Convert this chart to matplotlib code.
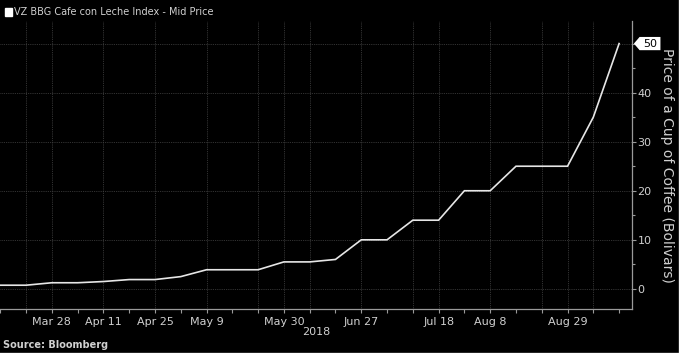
import matplotlib
matplotlib.use("Agg")
import matplotlib.pyplot as plt
from matplotlib.ticker import MultipleLocator
from matplotlib.patches import Polygon
from matplotlib.lines import Line2D
import matplotlib.transforms as mtrans

# weekly observations (index = week position on the axis)
weeks = list(range(25))
price = [0.75, 0.75, 1.25, 1.25, 1.5, 1.9, 1.9, 2.5, 3.9, 3.9, 3.9, 5.5, 5.5,
         6.0, 10, 10, 14, 14, 20, 20, 25, 25, 25, 35, 50]

label_pos = [2, 4, 6, 8, 11, 14, 17, 19, 22]
label_txt = ["Mar 28", "Apr 11", "Apr 25", "May 9", "May 30", "Jun 27",
             "Jul 18", "Aug 8", "Aug 29"]
grid_pos = [1, 2, 4, 6, 8, 10, 11, 12, 14, 16, 17, 19, 21, 22, 23]

bg = "black"
fg = "#d0d0d0"
spine_c = "#9a9a9a"
grid_c = "#444444"

fig = plt.figure(figsize=(6.79, 3.53), dpi=100, facecolor=bg)
ax = fig.add_axes([0.0, 44 / 353, 632 / 679, (309 - 21) / 353])
ax.set_facecolor(bg)

ax.plot(weeks, price, color="#e6e6e6", lw=1.2, solid_joinstyle="miter")

ax.set_xlim(-0.01, 24.5)
ax.set_ylim(-4.1, 54.6)

# grid
for g in grid_pos:
    ax.axvline(g, color=grid_c, lw=0.6, ls=(0, (1, 1.2)), zorder=0)
for yv in range(0, 60, 10):
    ax.axhline(yv, color=grid_c, lw=0.6, ls=(0, (1, 1.2)), zorder=0)

# spines
for s in ["left", "top"]:
    ax.spines[s].set_visible(False)
for s in ["bottom", "right"]:
    ax.spines[s].set_color(spine_c)
    ax.spines[s].set_linewidth(0.9)

ax.yaxis.tick_right()
ax.yaxis.set_label_position("right")
ax.set_yticks(range(0, 50, 10))
ax.yaxis.set_minor_locator(MultipleLocator(5))
ax.set_xticks(label_pos)
ax.set_xticklabels(label_txt)
ax.xaxis.set_minor_locator(MultipleLocator(1))
ax.tick_params(axis="both", which="both", colors=spine_c, labelcolor=fg,
               labelsize=8)
ax.tick_params(axis="x", which="both", length=3, width=0.8, pad=3)
ax.tick_params(axis="y", which="major", length=3, width=0.8, pad=1)
ax.tick_params(axis="y", which="minor", length=2, width=0.8)

ax.set_ylabel("Price of a Cup of Coffee (Bolivars)", color=fg, fontsize=10,
              rotation=270, labelpad=16)

# last value marker: small white tag with a notch pointing at the axis
last = price[-1]
tr = mtrans.blended_transform_factory(ax.transAxes, ax.transData)
x0 = 1.003
x1 = 1.012
x2 = 1.045
h = 1.35
tag = Polygon([(x0, last), (x1, last + h), (x2, last + h), (x2, last - h),
               (x1, last - h)], closed=True, transform=tr, facecolor="white",
              edgecolor="none", clip_on=False, zorder=5)
ax.add_patch(tag)
ax.text((x1 + x2) / 2, last, f"{last:.0f}", transform=tr, color="black",
        fontsize=8, ha="center", va="center", clip_on=False, zorder=6)

fig.text(316 / 679, 1 - 332 / 353, "2018", color=fg, fontsize=8,
         ha="center", va="center")

# title with legend square
fig.patches.append(plt.Rectangle((5 / 679, 1 - 15.5 / 353), 6.5 / 679, 7 / 353,
                                 transform=fig.transFigure, facecolor="white",
                                 edgecolor="white"))
fig.text(14.5 / 679, 1 - 12 / 353, "VZ BBG Cafe con Leche Index - Mid Price",
         color=fg, fontsize=7, ha="left", va="center")
fig.text(3 / 679, 1 - 345 / 353, "Source: Bloomberg", color=fg, fontsize=7,
         fontweight="bold", ha="left", va="center")

# thin light frame on the right and bottom edges
fig.lines.append(Line2D([0, 1], [0.5 / 353, 0.5 / 353], transform=fig.transFigure,
                        color="#c8c8c8", lw=1))
fig.lines.append(Line2D([1 - 0.5 / 679, 1 - 0.5 / 679], [0, 1],
                        transform=fig.transFigure, color="#c8c8c8", lw=1))

fig.savefig("out.png", dpi=100, facecolor=bg)
